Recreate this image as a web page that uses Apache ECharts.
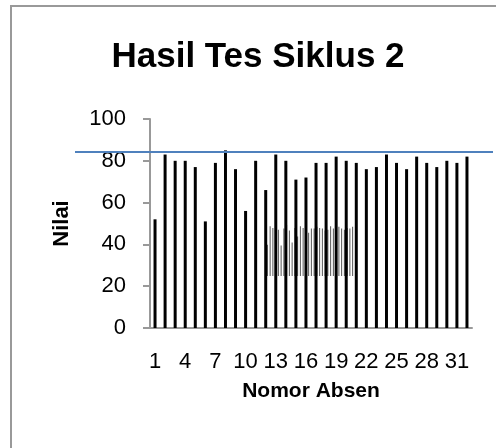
<!DOCTYPE html>
<html>
<head>
<meta charset="utf-8">
<script src="https://cdn.jsdelivr.net/npm/echarts@6/dist/echarts.min.js"></script>
<style>
  html, body { margin: 0; padding: 0; background: #fff; }
  #chart { width: 496px; height: 448px; }
</style>
</head>
<body>
<div id="chart"></div>
<script>
// nomor absen 1..32
var nomorAbsen = [];
for (var i = 1; i <= 32; i++) nomorAbsen.push(String(i));

// nilai tes siklus 2
var nilai = [52, 83, 80, 80, 77, 51, 79, 85, 76, 56, 80, 66, 83, 80, 71, 72,
             79, 79, 82, 80, 79, 76, 77, 83, 79, 76, 82, 79, 77, 80, 79, 82];

// garis biru (batas)
var garisBatas = [84.4];

var yTicks = [0, 20, 40, 60, 80, 100];

var chart = echarts.init(document.getElementById("chart"));
var font = "'Liberation Sans', Arial, sans-serif";

var option = {
  animation: false,
  title: {
    text: "Hasil Tes Siklus 2",
    left: 253,
    textAlign: "center",
    top: 35,
    textStyle: { fontFamily: font, fontWeight: "bold", fontSize: 35, color: "#000" },
  },
  graphic: [
    {
      type: "rect",
      shape: { x: 11, y: 6, width: 600, height: 600 },
      style: { fill: "none", stroke: "#999", lineWidth: 2 },
      silent: true,
    },
  ],
  grid: [
    // grafik utama
    { left: 150, right: 24, top: 119, bottom: 120 },
    // salinan kecil di tengah
    { left: 266, width: 88, top: 216, height: 60 },
    // garis biru yang melebar
    { left: 75, right: 3, top: 119, bottom: 120 },
  ],
  xAxis: [
    {
      gridIndex: 0,
      type: "category",
      data: nomorAbsen,
      name: "Nomor Absen",
      nameLocation: "middle",
      nameGap: 53,
      nameTextStyle: { fontFamily: font, fontWeight: "bold", fontSize: 21, color: "#000" },
      axisLine: { lineStyle: { color: "#999", width: 2 } },
      axisTick: { show: false },
      axisLabel: {
        interval: 2,
        margin: 23,
        fontFamily: font,
        fontSize: 22,
        color: "#000",
      },
    },
    { gridIndex: 1, type: "category", data: nomorAbsen, show: false },
    { gridIndex: 2, type: "category", data: nomorAbsen, show: false },
  ],
  yAxis: [
    {
      gridIndex: 0,
      type: "value",
      min: yTicks[0],
      max: yTicks[yTicks.length - 1],
      interval: 20,
      name: "Nilai",
      nameLocation: "middle",
      nameRotate: 90,
      nameGap: 77,
      nameTextStyle: { fontFamily: font, fontWeight: "bold", fontSize: 22, color: "#000" },
      axisLine: { show: true, lineStyle: { color: "#999", width: 2 } },
      axisTick: { show: true, length: 7, lineStyle: { color: "#999", width: 2 } },
      splitLine: { show: false },
      axisLabel: { margin: 24, fontFamily: font, fontSize: 22, color: "#000" },
    },
    { gridIndex: 1, type: "value", min: 0, max: 100, show: false, splitLine: { show: false } },
    { gridIndex: 2, type: "value", min: 0, max: 100, show: false, splitLine: { show: false } },
  ],
  series: [
    {
      name: "mini",
      type: "bar",
      xAxisIndex: 1,
      yAxisIndex: 1,
      data: nilai,
      barWidth: 1,
      itemStyle: { color: "#555" },
      z: 1,
    },
    {
      name: "Nilai",
      type: "bar",
      xAxisIndex: 0,
      yAxisIndex: 0,
      data: nilai,
      barWidth: 3,
      itemStyle: { color: "#000" },
      z: 3,
    },
    {
      name: "batas",
      type: "line",
      xAxisIndex: 2,
      yAxisIndex: 2,
      data: [],
      markLine: {
        silent: true,
        symbol: ["none", "none"],
        label: { show: false },
        lineStyle: { color: "#4f81bd", width: 2, type: "solid" },
        data: [{ yAxis: garisBatas[0] }],
      },
      z: 4,
    },
  ],
};

chart.setOption(option);
</script>
</body>
</html>
